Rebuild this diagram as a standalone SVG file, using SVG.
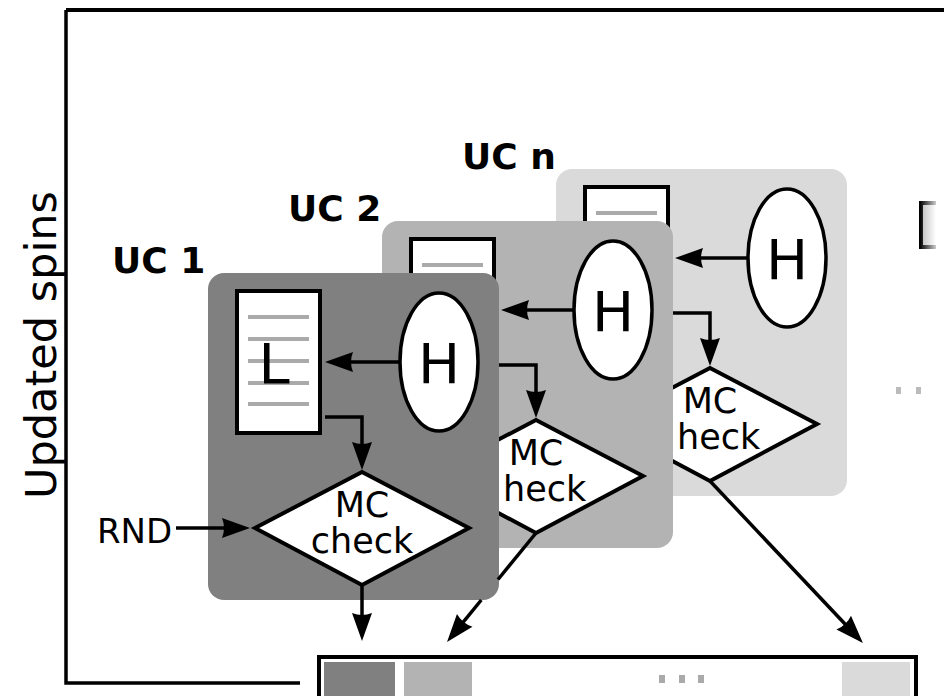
<svg xmlns="http://www.w3.org/2000/svg" width="944" height="696" viewBox="0 0 944 696">
<style>
.ln{fill:none;stroke:#000;stroke-width:3.5}
.ar{fill:none;stroke:#000;stroke-width:3.5;marker-end:url(#ah)}
.doc{fill:#fff;stroke:#000;stroke-width:4}
.dl{stroke:#aaa;stroke-width:4}
.el{fill:#fff;stroke:#000;stroke-width:3.5}
.dm{fill:#fff;stroke:#000;stroke-width:4;stroke-linejoin:miter}
.t{font-family:"DejaVu Sans","Liberation Sans",sans-serif;fill:#000}
.big{font-size:56px}
.mc{font-size:35px}
.uc{font-family:"DejaVu Sans","Liberation Sans",sans-serif;font-weight:bold;font-size:36px}
</style>
<defs>
<marker id="ah" markerUnits="userSpaceOnUse" viewBox="-18 -12 32 24" refX="0" refY="0" markerWidth="32" markerHeight="24" orient="auto">
<path d="M12,0 L-16,-10 Q-12,0 -16,10 Z" fill="#000"/>
</marker>
<linearGradient id="fade" gradientUnits="userSpaceOnUse" x1="920" y1="0" x2="940" y2="0">
<stop offset="0" stop-color="#000"/><stop offset="1" stop-color="#000" stop-opacity="0"/>
</linearGradient>
<linearGradient id="fade2" gradientUnits="userSpaceOnUse" x1="923" y1="0" x2="936" y2="0">
<stop offset="0" stop-color="#c8c8c8"/><stop offset="1" stop-color="#fff"/>
</linearGradient>
</defs>

<g id="frame">
<path class="ln" d="M66,10 H944" style="stroke-width:4"/>
<path class="ln" d="M66,10 V683 H300"/>
<text class="t" font-size="43" transform="translate(56,345) rotate(-90)" text-anchor="middle">Updated spins</text>
</g>

<g id="labels">
<text class="uc" x="112" y="273">UC 1</text>
<text class="uc" x="288" y="221">UC 2</text>
<text class="uc" x="462" y="169">UC n</text>
</g>

<g id="far-right">
<path d="M936,203 H921 V247 H936" fill="none" stroke="url(#fade)" stroke-width="4"/>
<rect x="923" y="205" width="13" height="40" fill="url(#fade2)"/>
<rect x="896" y="387" width="5" height="7" fill="#bbb"/>
<rect x="916" y="387" width="5" height="7" fill="#bbb"/>
</g>

<g id="uc-n">
<rect x="556" y="169" width="291" height="327" rx="16" fill="#dadada"/>
<rect class="doc" x="585" y="187" width="83" height="142"/>
<path class="dl" d="M596,213 H657"/>
<ellipse class="el" cx="787" cy="258" rx="39" ry="69"/>
<text class="t big" x="787" y="279" text-anchor="middle">H</text>
<polygon class="dm" points="710,368 817,424 710,481 603,424"/>
<text class="t mc" x="710" y="413" text-anchor="middle">MC</text>
<text class="t mc" x="677" y="449">heck</text>
</g>

<g id="uc-2">
<rect x="382" y="221" width="291" height="327" rx="16" fill="#b3b3b3"/>
<rect class="doc" x="411" y="239" width="83" height="142"/>
<path class="dl" d="M422,265 H483"/>
<ellipse class="el" cx="613" cy="310" rx="39" ry="69"/>
<text class="t big" x="613" y="331" text-anchor="middle">H</text>
<polygon class="dm" points="536,420 643,476 536,533 429,476"/>
<text class="t mc" x="536" y="465" text-anchor="middle">MC</text>
<text class="t mc" x="503" y="501">heck</text>
</g>

<g id="uc-1">
<rect x="208" y="273" width="291" height="327" rx="16" fill="#808080"/>
<rect class="doc" x="237" y="291" width="83" height="142"/>
<path class="dl" d="M248,317 H309 M248,339 H309 M248,361 H309 M248,383 H309 M248,404 H309"/>
<text class="t big" x="274" y="383" text-anchor="middle">L</text>
<ellipse class="el" cx="439" cy="362" rx="39" ry="69"/>
<text class="t big" x="439" y="383" text-anchor="middle">H</text>
<polygon class="dm" points="362,472 469,528 362,585 255,528"/>
<text class="t mc" x="362" y="517" text-anchor="middle">MC</text>
<text class="t mc" x="362" y="553" text-anchor="middle">check</text>
</g>

<g id="rnd">
<text class="t" font-size="34" x="97" y="543">RND</text>
</g>

<g id="spin-bar">
<rect x="319" y="657" width="597" height="60" fill="#fff" stroke="#000" stroke-width="4"/>
<rect x="324" y="662" width="71" height="40" fill="#808080"/>
<rect x="404" y="662" width="68" height="40" fill="#b3b3b3"/>
<rect x="842" y="662" width="68" height="40" fill="#dadada"/>
<rect x="659" y="675" width="6" height="8" fill="#aaa"/>
<rect x="679" y="675" width="6" height="8" fill="#aaa"/>
<rect x="698" y="675" width="6" height="8" fill="#aaa"/>
</g>

<g id="connectors">
<path class="ar" d="M748,258 H687"/>
<path class="ar" d="M673,313 H710 V354"/>
<path class="ar" d="M710,481 L854.7,634.3"/>
<path class="ar" d="M574,310 H513"/>
<path class="ar" d="M499,365 H536 V406"/>
<path class="ln" d="M536,533 L498,579.5"/>
<path class="ar" d="M481.3,600 L454.6,632.7"/>
<path class="ar" d="M400,362 H337"/>
<path class="ar" d="M325,417 H362 V458"/>
<path class="ar" d="M176,528 H238"/>
<path class="ar" d="M362,585 V629"/>
</g>
</svg>
